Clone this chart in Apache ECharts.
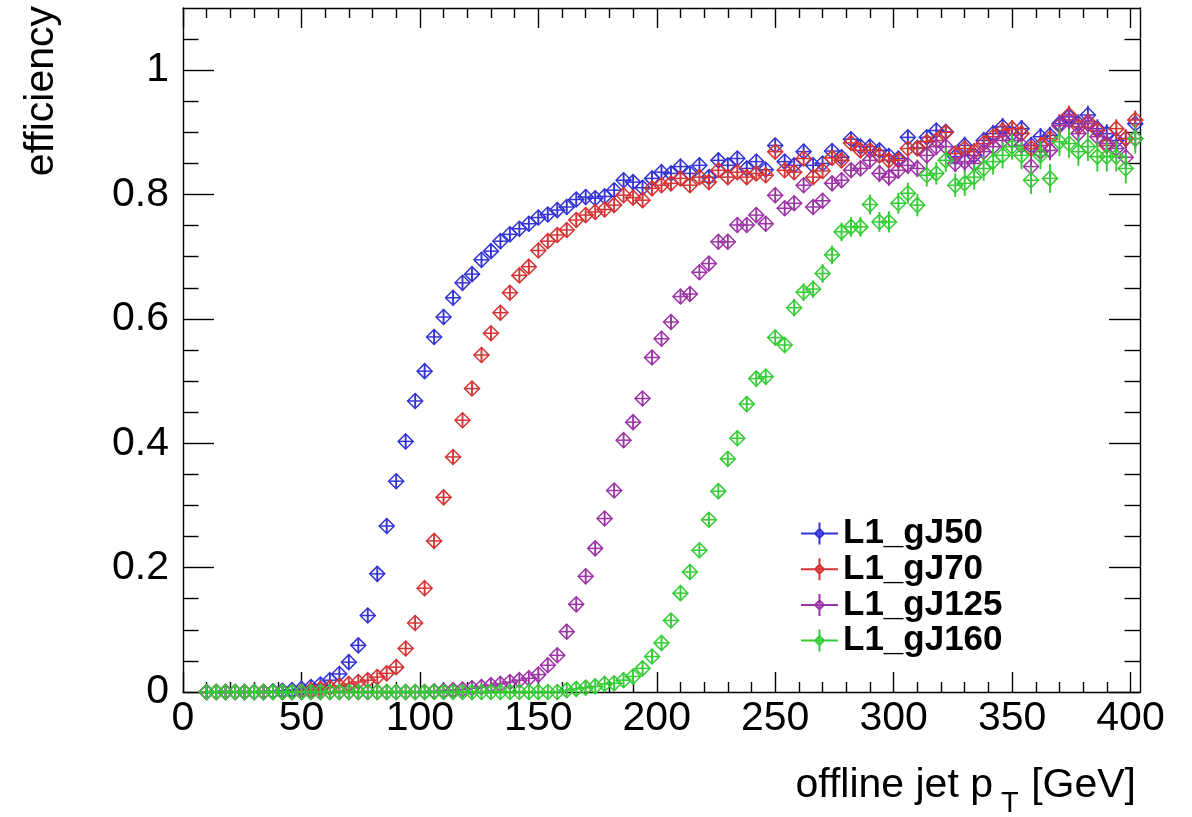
<!DOCTYPE html>
<html><head><meta charset="utf-8">
<script src="https://cdn.jsdelivr.net/npm/echarts@6/dist/echarts.min.js"></script>
<style>html,body{margin:0;padding:0;background:#fff}#c{width:1192px;height:817px}</style>
</head><body><div id="c"></div><script>
// offline jet pT bin centres [GeV]
const pt = [10,14,18,22,26,30,34,38,42,46,
  50,54,58,62,66,70,74,78,82,86,
  90,94,98,102,106,110,114,118,122,126,
  130,134,138,142,146,150,154,158,162,166,
  170,174,178,182,186,190,194,198,202,206,
  210,214,218,222,226,230,234,238,242,246,
  250,254,258,262,266,270,274,278,282,286,
  290,294,298,302,306,310,314,318,322,326,
  330,334,338,342,346,350,354,358,362,366,
  370,374,378,382,386,390,394,398,402];

const effJ50 = [0,0,0,0,0,0,0,0.001,0.002,0.003,
  0.005,0.008,0.012,0.019,0.029,0.048,0.075,0.123,0.19,0.267,
  0.339,0.403,0.468,0.516,0.571,0.603,0.634,0.658,0.672,0.695,
  0.709,0.725,0.736,0.745,0.753,0.763,0.768,0.775,0.78,0.792,
  0.796,0.794,0.797,0.807,0.823,0.82,0.811,0.826,0.836,0.834,
  0.845,0.834,0.847,0.828,0.855,0.847,0.858,0.842,0.853,0.84,
  0.879,0.853,0.847,0.869,0.847,0.85,0.87,0.86,0.889,0.877,
  0.877,0.871,0.862,0.858,0.892,0.875,0.892,0.903,0.901,0.861,
  0.879,0.863,0.887,0.898,0.909,0.898,0.906,0.879,0.893,0.895,
  0.914,0.925,0.914,0.928,0.906,0.898,0.887,0.89,0.914];
const errJ50 = [0.001,0.001,0.001,0.001,0.001,0.001,0.001,0.001,0.001,0.001,
  0.002,0.002,0.003,0.003,0.004,0.005,0.006,0.007,0.008,0.009,
  0.009,0.01,0.01,0.01,0.01,0.01,0.01,0.009,0.009,0.009,
  0.009,0.009,0.009,0.009,0.009,0.009,0.009,0.009,0.009,0.009,
  0.009,0.009,0.009,0.009,0.009,0.009,0.009,0.009,0.009,0.009,
  0.01,0.01,0.01,0.01,0.01,0.01,0.01,0.01,0.01,0.01,
  0.011,0.011,0.011,0.011,0.011,0.011,0.011,0.011,0.011,0.011,
  0.012,0.012,0.012,0.012,0.012,0.012,0.012,0.012,0.012,0.012,
  0.014,0.014,0.014,0.014,0.014,0.014,0.014,0.014,0.014,0.014,
  0.015,0.015,0.015,0.015,0.015,0.015,0.015,0.015,0.015];

const effJ70 = [0,0,0,0,0,0,0,0,0,0,
  0.001,0.003,0.005,0.007,0.01,0.013,0.016,0.019,0.024,0.03,
  0.04,0.07,0.111,0.167,0.243,0.313,0.378,0.437,0.488,0.542,
  0.577,0.61,0.642,0.67,0.684,0.71,0.725,0.735,0.743,0.759,
  0.767,0.772,0.776,0.783,0.799,0.795,0.791,0.81,0.815,0.818,
  0.826,0.815,0.828,0.82,0.839,0.828,0.836,0.828,0.834,0.831,
  0.869,0.839,0.836,0.858,0.828,0.838,0.859,0.855,0.883,0.871,
  0.871,0.863,0.855,0.855,0.874,0.874,0.885,0.887,0.9,0.866,
  0.874,0.869,0.882,0.893,0.903,0.906,0.898,0.874,0.879,0.89,
  0.911,0.928,0.909,0.917,0.903,0.879,0.906,0.89,0.92];
const errJ70 = [0.001,0.001,0.001,0.001,0.001,0.001,0.001,0.001,0.001,0.001,
  0.001,0.001,0.002,0.002,0.002,0.003,0.003,0.003,0.004,0.004,
  0.005,0.006,0.007,0.008,0.009,0.01,0.01,0.01,0.01,0.01,
  0.01,0.01,0.01,0.01,0.01,0.01,0.01,0.01,0.01,0.01,
  0.009,0.009,0.009,0.009,0.009,0.009,0.009,0.009,0.009,0.009,
  0.01,0.01,0.01,0.01,0.01,0.01,0.01,0.01,0.01,0.01,
  0.011,0.011,0.011,0.011,0.011,0.011,0.011,0.011,0.011,0.011,
  0.012,0.012,0.012,0.012,0.012,0.012,0.012,0.012,0.012,0.012,
  0.014,0.014,0.014,0.014,0.014,0.014,0.014,0.014,0.014,0.014,
  0.015,0.015,0.015,0.015,0.015,0.015,0.015,0.015,0.015];

const effJ125 = [0,0,0,0,0,0,0,0,0,0,
  0,0,0,0,0,0,0,0,0,0,
  0,0,0,0,0.001,0.002,0.003,0.004,0.006,0.008,
  0.011,0.013,0.016,0.019,0.022,0.028,0.043,0.059,0.097,0.141,
  0.186,0.231,0.279,0.324,0.405,0.434,0.472,0.538,0.568,0.595,
  0.636,0.64,0.675,0.689,0.724,0.724,0.751,0.751,0.767,0.753,
  0.799,0.778,0.786,0.815,0.78,0.79,0.818,0.823,0.839,0.842,
  0.855,0.834,0.828,0.839,0.847,0.842,0.863,0.877,0.877,0.85,
  0.853,0.85,0.869,0.877,0.887,0.887,0.879,0.845,0.869,0.871,
  0.911,0.92,0.898,0.914,0.893,0.882,0.874,0.86,0.89];
const errJ125 = [0.001,0.001,0.001,0.001,0.001,0.001,0.001,0.001,0.001,0.001,
  0.001,0.001,0.001,0.001,0.001,0.001,0.001,0.001,0.001,0.001,
  0.001,0.001,0.001,0.001,0.001,0.001,0.001,0.002,0.002,0.002,
  0.003,0.003,0.003,0.003,0.004,0.004,0.005,0.006,0.007,0.008,
  0.009,0.01,0.01,0.011,0.011,0.011,0.011,0.011,0.011,0.011,
  0.011,0.011,0.011,0.011,0.011,0.011,0.011,0.011,0.011,0.011,
  0.012,0.012,0.012,0.012,0.012,0.012,0.012,0.012,0.012,0.012,
  0.014,0.014,0.014,0.014,0.014,0.014,0.014,0.014,0.014,0.014,
  0.016,0.016,0.016,0.016,0.016,0.016,0.016,0.016,0.016,0.016,
  0.017,0.017,0.017,0.017,0.017,0.017,0.017,0.017,0.017];

const effJ160 = [0,0,0,0,0,0,0,0,0,0,
  0,0,0,0,0,0,0,0,0,0,
  0,0,0,0,0,0,0,0,0,0,
  0,0,0,0,0,0,0,0,0.003,0.005,
  0.007,0.009,0.013,0.014,0.019,0.025,0.038,0.057,0.079,0.115,
  0.159,0.193,0.228,0.277,0.323,0.375,0.408,0.463,0.504,0.507,
  0.57,0.558,0.618,0.643,0.648,0.673,0.703,0.74,0.748,0.748,
  0.784,0.756,0.756,0.786,0.802,0.783,0.831,0.834,0.855,0.815,
  0.818,0.828,0.842,0.853,0.863,0.877,0.863,0.823,0.863,0.826,
  0.885,0.882,0.869,0.877,0.861,0.861,0.861,0.842,0.89];
const errJ160 = [0.002,0.002,0.002,0.002,0.002,0.002,0.002,0.002,0.002,0.002,
  0.002,0.002,0.002,0.002,0.002,0.002,0.002,0.002,0.002,0.002,
  0.002,0.002,0.002,0.002,0.002,0.002,0.002,0.002,0.002,0.002,
  0.002,0.002,0.002,0.002,0.002,0.002,0.002,0.002,0.003,0.003,
  0.004,0.004,0.005,0.005,0.006,0.006,0.007,0.008,0.008,0.009,
  0.01,0.01,0.011,0.011,0.012,0.012,0.012,0.012,0.013,0.013,
  0.013,0.013,0.014,0.014,0.014,0.015,0.015,0.015,0.016,0.016,
  0.016,0.016,0.017,0.017,0.017,0.018,0.018,0.018,0.019,0.019,
  0.02,0.02,0.02,0.021,0.021,0.021,0.022,0.022,0.022,0.023,
  0.023,0.023,0.023,0.023,0.024,0.024,0.024,0.024,0.024];

const seriesNames = ['L1_gJ50','L1_gJ70','L1_gJ125','L1_gJ160'];
const seriesColors = ['#3434d6','#d43434','#9c34a6','#34cc34'];
const seriesEff = [effJ50, effJ70, effJ125, effJ160];
const seriesErr = [errJ50, errJ70, errJ125, errJ160];

const xMajor = [0,50,100,150,200,250,300,350,400];
const xMinor = [10,20,30,40,60,70,80,90,110,120,130,140,160,170,180,190,
  210,220,230,240,260,270,280,290,310,320,330,340,360,370,380,390];
const yMajor = [0,0.2,0.4,0.6,0.8,1];
const yMinor = [0.05,0.1,0.15,0.25,0.3,0.35,0.45,0.5,0.55,0.65,0.7,0.75,0.85,0.9,0.95,1.05];

const FONT = "'Liberation Sans', Arial, Helvetica, sans-serif";
const black = '#000';

function makeAxis(kind, pos, ticks, len, showLine, labels) {
  return {
    type: 'value', position: pos,
    min: 0, max: kind === 'x' ? 404 : 1.1,
    axisLine: { show: showLine, onZero: false, lineStyle: { color: black, width: 1.4 } },
    axisTick: { show: true, inside: true, length: len, customValues: ticks, lineStyle: { color: black, width: 1.4 } },
    axisLabel: labels ? {
      show: true, customValues: ticks, color: black, fontFamily: FONT, fontSize: 41,
      margin: kind === 'x' ? 6 : 14,
      formatter: v => String(v)
    } : { show: false },
    splitLine: { show: false }
  };
}

function renderItem(params, api) {
  const x = api.value(0), y = api.value(1), e = api.value(2);
  const c = api.coord([x, y]);
  const up = api.coord([x, y + e]), dn = api.coord([x, y - e]);
  const h = 7.5;
  const color = api.visual('color');
  const y1 = Math.min(up[1], c[1] - h), y2 = Math.max(dn[1], c[1] + h);
  return {
    type: 'group',
    children: [
      { type: 'polygon', shape: { points: [[c[0], c[1] - h], [c[0] + h, c[1]], [c[0], c[1] + h], [c[0] - h, c[1]]] },
        style: { fill: 'none', stroke: color, lineWidth: 1.5 } },
      { type: 'line', shape: { x1: c[0] - h, y1: c[1], x2: c[0] + h, y2: c[1] },
        style: { stroke: color, lineWidth: 1.5 } },
      { type: 'line', shape: { x1: c[0], y1: y1, x2: c[0], y2: y2 },
        style: { stroke: color, lineWidth: 1.9 } }
    ]
  };
}

const series = seriesNames.map((name, k) => ({
  name: name,
  type: 'custom',
  xAxisIndex: 0, yAxisIndex: 0,
  itemStyle: { color: seriesColors[k] },
  renderItem: renderItem,
  encode: { x: 0, y: 1 },
  data: pt.map((p, i) => [p, seriesEff[k][i], seriesErr[k][i]])
}));

const legendIcon = 'path://M0,12L37,12M18.5,1L18.5,23M14,12L18.5,7.5L23,12L18.5,16.5Z';

const option = {
  animation: false,
  backgroundColor: '#fff',
  grid: { left: 183, right: 52, top: 8, bottom: 125, containLabel: false },
  xAxis: [
    makeAxis('x', 'bottom', xMajor, 20, true, true),
    makeAxis('x', 'bottom', xMinor, 10, false, false),
    makeAxis('x', 'top', xMajor, 20, true, false),
    makeAxis('x', 'top', xMinor, 10, false, false)
  ],
  yAxis: [
    makeAxis('y', 'left', yMajor, 31, true, true),
    makeAxis('y', 'left', yMinor, 15.5, false, false),
    makeAxis('y', 'right', yMajor, 31, true, false),
    makeAxis('y', 'right', yMinor, 15.5, false, false)
  ],
  legend: {
    orient: 'vertical', left: 800, top: 516, padding: 0,
    itemWidth: 37, itemHeight: 24, itemGap: 0.7,
    textStyle: { fontFamily: FONT, fontSize: 35, lineHeight: 34, fontWeight: 'bold', color: black },
    data: seriesNames.map((n, k) => ({
      name: n, icon: legendIcon,
      itemStyle: { color: 'rgba(0,0,0,0)', borderColor: seriesColors[k], borderWidth: 2 }
    }))
  },
  graphic: [
    { type: 'text', x: 42, y: 6, rotation: Math.PI / 2,
      style: { text: 'efficiency', font: '41px ' + FONT, fill: black, align: 'right', verticalAlign: 'middle' } },
    { type: 'text', x: 993, y: 786,
      style: { text: 'offline jet p', font: '41px ' + FONT, fill: black, align: 'right', verticalAlign: 'middle' } },
    { type: 'text', x: 1001, y: 804,
      style: { text: 'T', font: '29px ' + FONT, fill: black, align: 'left', verticalAlign: 'middle' } },
    { type: 'text', x: 1136, y: 786,
      style: { text: '[GeV]', font: '41px ' + FONT, fill: black, align: 'right', verticalAlign: 'middle' } }
  ],
  series: series
};

const chart = echarts.init(document.getElementById('c'), null, { renderer: 'canvas' });
chart.setOption(option);
</script></body></html>
